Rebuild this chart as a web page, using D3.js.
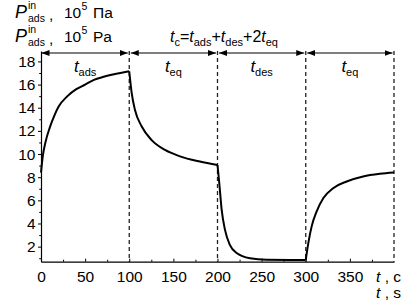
<!DOCTYPE html>
<html><head><meta charset="utf-8">
<script src="https://cdn.jsdelivr.net/npm/d3@7"></script>
<style>
body{margin:0;background:#fff}
svg{display:block}
text{font-family:"Liberation Sans",Arial,sans-serif;fill:#000}
</style>
</head><body>
<svg id="c" width="406" height="305"></svg>
<script>
// Data: pressure P_ads^in (10^5 Pa) vs time t (s), four phases
const adsT = [0,2,5,10,15,20,30,40,50,60,70,80,90,100];
const adsP = [8.4,9.8,11.0,12.3,13.3,14.1,15.0,15.6,16.0,16.4,16.65,16.85,17.0,17.15];
const eq1T = [100,102.7,106.5,114,125.4,140.5,157.5,180,200];
const eq1P = [17.15,15.3,13.8,12.4,11.2,10.35,9.8,9.35,9.05];
const desT = [200,202,204.7,208.5,214,221.7,236.8,255.7,300];
const desP = [9.05,7.5,5.2,3.45,2.15,1.45,1.0,0.87,0.85];
const eq2T = [300,302.9,306.7,312.4,320,331,346.4,365,384,400];
const eq2P = [0.85,2.3,3.75,5.05,6.2,7.05,7.63,8.06,8.29,8.4];
const phaseBounds = [0,100,200,300,400];
const phaseSubs = ["ads","eq","des","eq"];
const xTicks = [0,50,100,150,200,250,300,350];
const xMinor = [25,75,125,175,225,275,325,375];
const yTicks = [2,4,6,8,10,12,14,16,18];
const yMinor = [1,3,5,7,9,11,13,15,17];

const svg = d3.select("#c");
const x = d3.scaleLinear().domain([0,400]).range([41,394]);
const y = d3.scaleLinear().domain([0.7,18.9]).range([261.7,51]);

// arrow marker
svg.append("defs").append("marker")
  .attr("id","ah").attr("viewBox","0 -3 8 6").attr("refX",8).attr("refY",0)
  .attr("markerWidth",8).attr("markerHeight",6).attr("markerUnits","userSpaceOnUse")
  .attr("orient","auto-start-reverse")
  .append("path").attr("d","M0,-3L8,0L0,3Z").attr("fill","#000");

// dashed phase lines
svg.selectAll("line.ph").data(phaseBounds.slice(1)).enter().append("line")
  .attr("x1",d=>x(d)).attr("x2",d=>x(d)).attr("y1",51).attr("y2",y.range()[0])
  .attr("stroke","#222").attr("stroke-width",1.3).attr("stroke-dasharray","4,3");

// arrows
const segs = d3.range(4).map(i=>[phaseBounds[i],phaseBounds[i+1],phaseSubs[i]]);
svg.selectAll("line.ar").data(segs).enter().append("line")
  .attr("x1",(d,i)=>x(d[0])+(i===0?0.5:1.5)).attr("x2",d=>x(d[1])-1.5)
  .attr("y1",53).attr("y2",53).attr("stroke","#000").attr("stroke-width",1.2)
  .attr("marker-start","url(#ah)").attr("marker-end","url(#ah)");

// phase labels
segs.forEach(d=>{
  const t = svg.append("text").attr("x",(x(d[0])+x(d[1]))/2).attr("y",72)
    .attr("text-anchor","middle").style("font-size","17px");
  t.append("tspan").style("font-style","italic").text("t");
  t.append("tspan").attr("dy",4).style("font-size","11px").text(d[2]);
});

// axes
svg.append("g").attr("transform",`translate(${x(0)},0)`)
  .call(d3.axisLeft(y).tickValues(yTicks).tickSize(3).tickSizeOuter(0).tickPadding(2.5));
svg.append("g").attr("transform",`translate(${x(0)},0)`)
  .call(d3.axisLeft(y).tickValues(yMinor).tickSize(1.8).tickFormat("")).select(".domain").remove();
svg.append("g").attr("transform",`translate(0,${y.range()[0]})`)
  .call(d3.axisBottom(x).tickValues(xTicks).tickSize(-3).tickSizeOuter(0).tickPadding(9));
svg.append("g").attr("transform",`translate(0,${y.range()[0]})`)
  .call(d3.axisBottom(x).tickValues(xMinor).tickSize(-2).tickFormat("")).select(".domain").remove();
svg.selectAll(".domain").attr("stroke","#000").attr("stroke-width",1.2);
svg.selectAll(".tick line").attr("stroke","#000").attr("stroke-width",1);
svg.selectAll(".tick text").style("font-size","15.5px").style("font-family",'"Liberation Sans",Arial,sans-serif').attr("fill","#000");

// curve
const line = d3.line().x(d=>x(d[0])).y(d=>y(d[1])).curve(d3.curveMonotoneX);
[[adsT,adsP],[eq1T,eq1P],[desT,desP],[eq2T,eq2P]].forEach(([ts,ps])=>{
  svg.append("path").datum(ts.map((t,i)=>[t,ps[i]]))
    .attr("d",line).attr("fill","none").attr("stroke","#000").attr("stroke-width",2);
});

// y-axis titles (two languages)
function yTitle(base, unit){
  svg.append("text").attr("x",15).attr("y",base).style("font-size","18px").style("font-style","italic").text("P");
  svg.append("text").attr("x",28).attr("y",base-9).style("font-size","10.5px").text("in");
  svg.append("text").attr("x",28).attr("y",base+4).style("font-size","10.5px").text("ads");
  svg.append("text").attr("x",49).attr("y",base+2).style("font-size","15.5px").text(",");
  svg.append("text").attr("x",64).attr("y",base).style("font-size","15.5px").text("10");
  svg.append("text").attr("x",81.5).attr("y",base-8).style("font-size","10.5px").text("5");
  svg.append("text").attr("x",93).attr("y",base).style("font-size","15.5px").text(unit);
}
yTitle(18,"Па");
yTitle(42,"Pa");

// cycle formula
const f = svg.append("text").attr("x",170).attr("y",42.3).style("font-size","16px");
[["t",1],["c",0],["=",2],["t",1],["ads",0],["+",2],["t",1],["des",0],["+",2],["2",2],["t",1],["eq",0]]
.forEach(([s,k],i,arr)=>{
  const ts = f.append("tspan").text(s);
  const prevSub = i>0 && arr[i-1][1]===0;
  if(k===1){ ts.style("font-style","italic"); if(prevSub) ts.attr("dy",-4); }
  else if(k===0){ ts.style("font-size","11px").attr("dy",4); }
  else { if(prevSub) ts.attr("dy",-4); }
});

// x-axis titles
function xTitle(base, unit){
  const t = svg.append("text").attr("x",401).attr("y",base).attr("text-anchor","end").style("font-size","15.5px");
  t.append("tspan").style("font-style","italic").text("t");
  t.append("tspan").text(" , "+unit);
}
xTitle(282,"c");
xTitle(298,"s");
</script>
</body></html>
